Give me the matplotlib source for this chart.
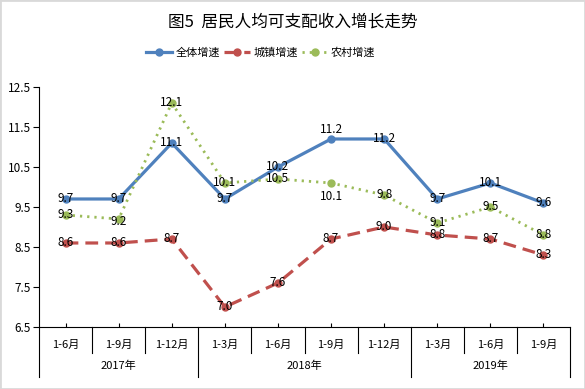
import numpy as np
import matplotlib
matplotlib.use("Agg")
import matplotlib.pyplot as plt
from matplotlib.lines import Line2D
from matplotlib.patches import Rectangle

plt.rcParams['font.family'] = ['Noto Sans CJK SC', 'DejaVu Sans']

# categories (two-level axis)
periods = ['1-6月', '1-9月', '1-12月', '1-3月', '1-6月', '1-9月', '1-12月', '1-3月', '1-6月', '1-9月']
years = ['2017年', '2018年', '2019年']
year_spans = [(0, 2), (3, 6), (7, 9)]

# series (plotted values)
total = [9.7, 9.7, 11.1, 9.7, 10.5, 11.2, 11.2, 9.7, 10.1, 9.6]
urban = [8.6, 8.6, 8.7, 7.0, 7.6, 8.7, 9.0, 8.8, 8.7, 8.3]
rural = [9.3, 9.2, 12.1, 10.1, 10.2, 10.1, 9.8, 9.1, 9.5, 8.8]

# data label texts as printed on the chart
total_lbl = ['9.7', '9.7', '11.1', '9.7', '10.2', '11.2', '11.2', '9.7', '10.1', '9.6']
urban_lbl = ['8.6', '8.6', '8.7', '7.0', '7.6', '8.7', '9.0', '8.8', '8.7', '8.3']
rural_lbl = ['9.3', '9.2', '12.1', '10.1', '10.5', '10.1', '9.8', '9.1', '9.5', '8.8']

blue, red, green = '#4F81BD', '#C0504D', '#9BBB59'

fig = plt.figure(figsize=(5.85, 3.89), dpi=100)
ax = fig.add_axes([0.0667, 0.1594, 0.9077, 0.6170])
x = np.arange(len(periods))

ax.plot(x, total, color=blue, lw=2.3, marker='o', ms=5, label='全体增速', zorder=3)
ax.plot(x, urban, color=red, lw=2.3, ls=(0, (4, 2.2)), marker='o', ms=5, label='城镇增速', zorder=3)
ax.plot(x, rural, color=green, lw=2.0, ls=(0, (0.8, 1.8)), marker='o', ms=5, label='农村增速', zorder=3)

# label offsets in points (most sit on the marker)
off_total = {5: (0, 7)}
off_rural = {1: (0, -2), 5: (0, -10)}
for vals, lbls, offs in [(total, total_lbl, off_total), (urban, urban_lbl, {}), (rural, rural_lbl, off_rural)]:
    for i, (v, t) in enumerate(zip(vals, lbls)):
        dx, dy = offs.get(i, (0, 0))
        ax.annotate(t, (i, v), xytext=(dx, dy), textcoords='offset points',
                    ha='center', va='center', fontsize=8.5, zorder=4)

ax.set_xlim(-0.5, len(periods) - 0.5)
ax.set_ylim(6.5, 12.5)
ax.set_yticks(np.arange(6.5, 12.6, 1.0))
ax.set_yticklabels([f'{v:.1f}' for v in np.arange(6.5, 12.6, 1.0)])
ax.tick_params(axis='y', direction='out', length=4, width=0.8, labelsize=8.5, pad=2)
ax.set_xticks(x)
ax.set_xticklabels([])
ax.tick_params(axis='x', direction='in', length=3, width=0.8)
for s in ['top', 'right']:
    ax.spines[s].set_visible(False)
for s in ['left', 'bottom']:
    ax.spines[s].set_linewidth(0.8)

# two-level category axis
tr = ax.get_xaxis_transform()
for i, p in enumerate(periods):
    ax.text(i, -0.075, p, transform=tr, ha='center', va='center', fontsize=8)
for (a, b), y in zip(year_spans, years):
    ax.text((a + b) / 2, -0.1625, y, transform=tr, ha='center', va='center', fontsize=8)
year_edges = {-0.5} | {b + 0.5 for a, b in year_spans}
for e in np.arange(-0.5, len(periods), 1.0):
    low = -0.208 if e in year_edges else -0.108
    ax.add_line(Line2D([e, e], [0, low], transform=tr, color='black', lw=0.8, clip_on=False))

fig.text(0.5, 1 - 22 / 389, '图5  居民人均可支配收入增长走势', ha='center', va='center', fontsize=12)
fig.legend(loc='center', bbox_to_anchor=(0.446, 1 - 53 / 389), ncol=3, frameon=False,
           fontsize=8, handlelength=2.3, columnspacing=0.4, handletextpad=0.3)

fig.patches.append(Rectangle((0, 0), 1, 1, transform=fig.transFigure, fill=False,
                             edgecolor='#d9d9d9', lw=2))
fig.savefig('out.png', dpi=100)
